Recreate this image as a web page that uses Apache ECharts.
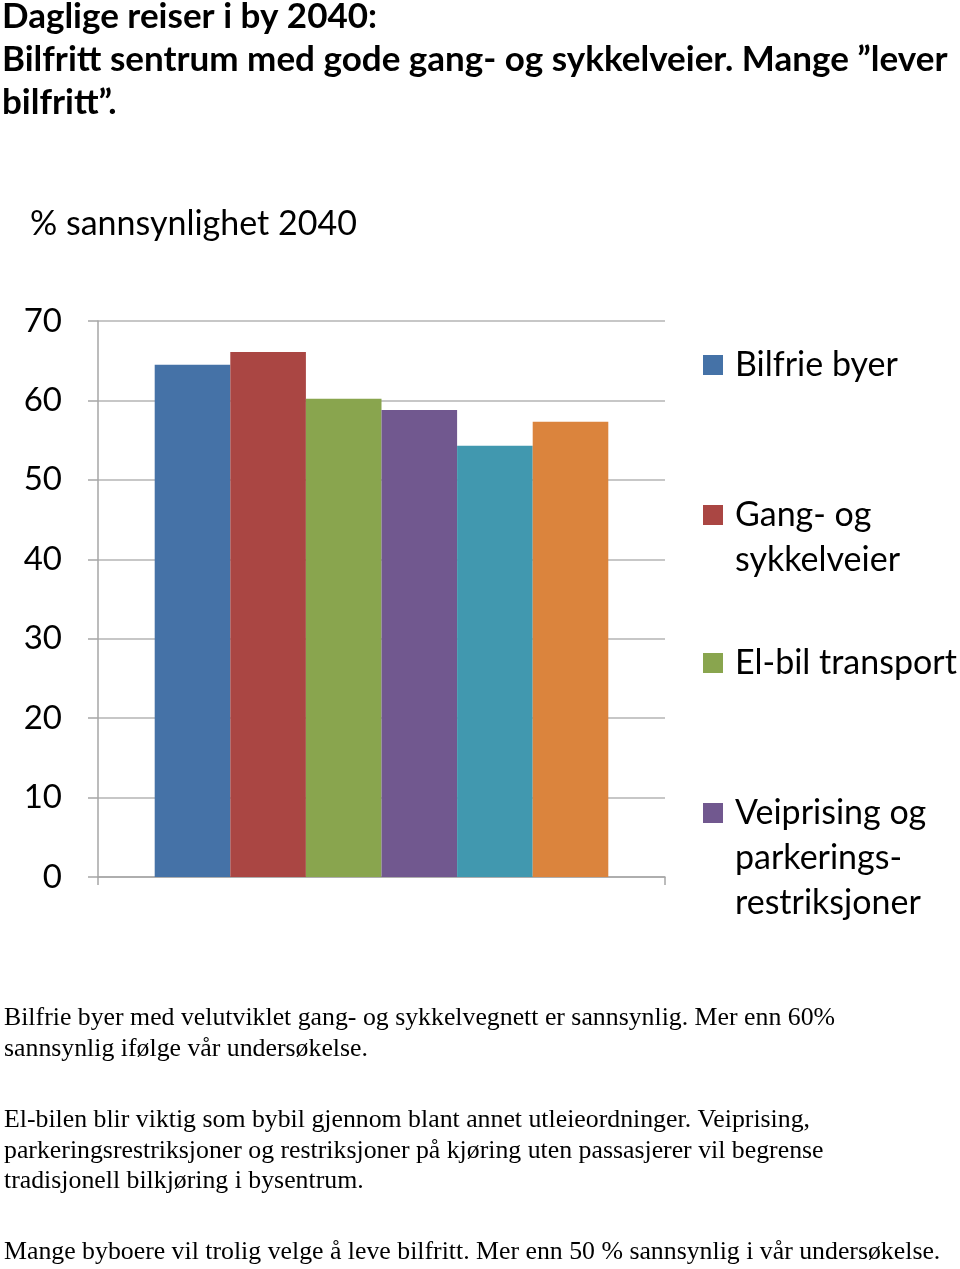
<!DOCTYPE html>
<html>
<head>
<meta charset="utf-8">
<script src="https://cdn.jsdelivr.net/npm/echarts@6/dist/echarts.min.js"></script>
<style>html,body{margin:0;padding:0;background:#fff}#c{width:960px;height:1269px}</style>
</head>
<body>
<div id="c"></div>
<script>
const categories = ['2040'];
const seriesNames = ['Bilfrie byer', 'Gang- og sykkelveier', 'El-bil transport', 'Veiprising og parkeringsrestriksjoner', 'Serie 5', 'Serie 6'];
const seriesValues = [64.5, 66.1, 60.2, 58.8, 54.3, 57.3];
const seriesColors = ['#4572A7', '#AA4643', '#89A54E', '#71588F', '#4198AF', '#DB843D'];
const legendLabels = [['Bilfrie byer'], ['Gang- og', 'sykkelveier'], ['El-bil transport'], ['Veiprising og', 'parkerings-', 'restriksjoner']];
const legendFirstLineY = [365, 515, 663, 813];
const yTicks = [0, 10, 20, 30, 40, 50, 60, 70];
const titleLines = ['Daglige reiser i by 2040:', 'Bilfritt sentrum med gode gang- og sykkelveier. Mange \u201dlever', 'bilfritt\u201d.'];
const subtitleText = '% sannsynlighet 2040';
const paragraphs = [
  ['Bilfrie byer med velutviklet gang- og sykkelvegnett er sannsynlig. Mer enn 60%', 'sannsynlig ifølge vår undersøkelse.'],
  ['El-bilen blir viktig som bybil gjennom blant annet utleieordninger. Veiprising,', 'parkeringsrestriksjoner og restriksjoner på kjøring uten passasjerer vil begrense', 'tradisjonell bilkjøring i bysentrum.'],
  ['Mange byboere vil trolig velge å leve bilfritt. Mer enn 50 % sannsynlig i vår undersøkelse.']
];

const SANS = 'Lato, "Open Sans", sans-serif';
const SERIF = '"Liberation Serif", "DejaVu Serif", serif';
const LH = 45;
const paraTops = [1003, 1105, 1237];

const chart = echarts.init(document.getElementById('c'));

const legends = legendLabels.map((lines, i) => {
  const blanks = lines.length - 1;
  const allLines = new Array(blanks).fill(' ').concat(lines);
  const boxH = allLines.length * LH;
  return {
    orient: 'vertical',
    left: 703,
    top: legendFirstLineY[i] - boxH / 2,
    padding: 0,
    itemWidth: 20,
    itemHeight: 20,
    icon: 'rect',
    data: [seriesNames[i]],
    formatter: () => allLines.join('\n'),
    selectedMode: false,
    textStyle: {fontFamily: SANS, fontSize: 34, color: '#000', lineHeight: LH, padding: [0, 0, 0, 7]}
  };
});

const titles = [
  {text: titleLines.join('\n'), left: 2, top: -5, padding: 0,
   textStyle: {fontFamily: SANS, fontWeight: 'bold', fontSize: 35, lineHeight: 43, color: '#000'}},
  {text: subtitleText, left: 30, top: 204, padding: 0,
   textStyle: {fontFamily: SANS, fontWeight: 'normal', fontSize: 34, lineHeight: 40, color: '#000'}}
].concat(paragraphs.map((p, i) => ({
  text: p.join('\n'), left: 4, top: paraTops[i], padding: 0,
  textStyle: {fontFamily: SERIF, fontWeight: 'normal', fontSize: 25.8, lineHeight: 30.5, color: '#000'}
})));

chart.setOption({
  animation: false,
  backgroundColor: '#fff',
  title: titles,
  legend: legends,
  grid: {left: 98, right: 295, top: 321, bottom: 392, containLabel: false},
  xAxis: {
    type: 'category', data: categories,
    axisLine: {lineStyle: {color: '#A6A6A6', width: 1.5}},
    axisTick: {show: true, length: 8, lineStyle: {color: '#A6A6A6', width: 1.5}},
    axisLabel: {show: false}
  },
  yAxis: {
    type: 'value', min: yTicks[0], max: yTicks[yTicks.length - 1], interval: 10,
    axisLine: {show: true, lineStyle: {color: '#A6A6A6', width: 1.5}},
    axisTick: {show: true, length: 10, lineStyle: {color: '#A6A6A6', width: 1.5}},
    splitLine: {lineStyle: {color: '#B4B4B4', width: 1.5}},
    axisLabel: {fontFamily: SANS, fontSize: 33, color: '#000', margin: 36}
  },
  series: seriesNames.map((n, i) => ({
    type: 'bar', name: n, data: [seriesValues[i]],
    barGap: '0%', barCategoryGap: '20%',
    itemStyle: {color: seriesColors[i]}
  }))
});
</script>
</body>
</html>
